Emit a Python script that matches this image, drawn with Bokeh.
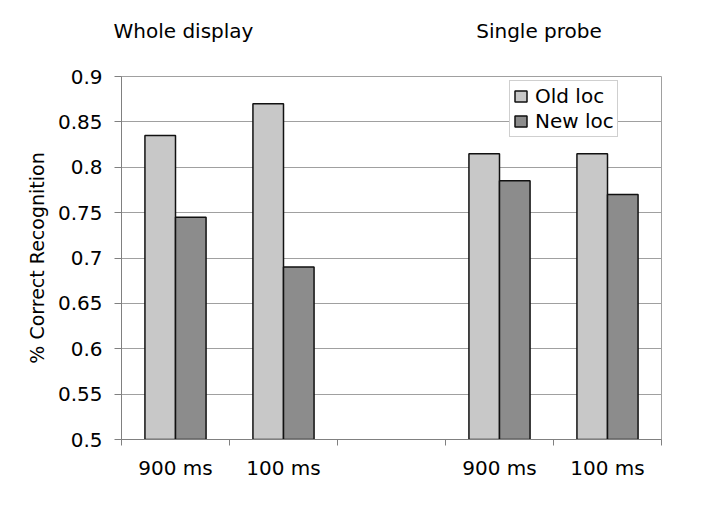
from bokeh.plotting import figure
from bokeh.models import FixedTicker, Legend, LegendItem, Range1d, LinearAxis
from bokeh.embed import file_html
from bokeh.resources import INLINE

# data
groups = ["Whole display", "Single probe"]
conditions = ["900 ms", "100 ms", "", "900 ms", "100 ms"]
old_loc = [0.835, 0.87, None, 0.815, 0.815]
new_loc = [0.745, 0.69, None, 0.785, 0.77]
y_ticks = [0.5, 0.55, 0.6, 0.65, 0.7, 0.75, 0.8, 0.85, 0.9]
group_title_pos = [0.574, 3.866]

FONT = "DejaVu Sans"
n = len(conditions)
slots = [i + 0.5 for i in range(n)]
bw = 0.283
ymin, ymax = y_ticks[0], y_ticks[-1]

old_x = [s - bw / 2 for s, v in zip(slots, old_loc) if v is not None]
old_top = [v for v in old_loc if v is not None]
new_x = [s + bw / 2 for s, v in zip(slots, new_loc) if v is not None]
new_top = [v for v in new_loc if v is not None]

p = figure(width=690, height=500, output_backend="svg", toolbar_location=None,
           x_range=Range1d(0, n), y_range=Range1d(ymin, ymax),
           min_border_left=121, min_border_right=29, min_border_top=76, min_border_bottom=61)

r_old = p.vbar(x=old_x, top=old_top, bottom=ymin, width=bw, fill_color="#c8c8c8",
               line_color="#111111", line_width=1.5)
r_new = p.vbar(x=new_x, top=new_top, bottom=ymin, width=bw, fill_color="#8c8c8c",
               line_color="#111111", line_width=1.5)

# bottom axis
bx = p.below[0]
bx.ticker = FixedTicker(ticks=[s for s, c in zip(slots, conditions) if c],
                        minor_ticks=list(range(n + 1)))
bx.major_label_overrides = {s: c for s, c in zip(slots, conditions) if c}
bx.major_tick_line_color = None
bx.major_tick_out = 6
bx.minor_tick_line_color = "#808080"
bx.minor_tick_out = 6
bx.minor_tick_in = 0
bx.axis_line_color = "#808080"
bx.major_label_text_font = FONT
bx.major_label_text_font_size = "20px"
bx.major_label_text_color = "#000000"
bx.major_label_standoff = 10

# group titles as an invisible axis above the frame
top_axis = LinearAxis(ticker=FixedTicker(ticks=group_title_pos, minor_ticks=[]),
                      major_label_overrides={t: g for t, g in zip(group_title_pos, groups)})
top_axis.axis_line_color = None
top_axis.major_tick_line_color = None
top_axis.minor_tick_line_color = None
top_axis.major_tick_out = 0
top_axis.major_tick_in = 0
top_axis.major_label_standoff = 34
top_axis.major_label_text_font = FONT
top_axis.major_label_text_font_size = "20px"
top_axis.major_label_text_color = "#000000"
p.add_layout(top_axis, "above")

ly = p.left[0]
ly.ticker = FixedTicker(ticks=y_ticks)
ly.major_label_overrides = {t: f"{t:g}" for t in y_ticks}
ly.minor_tick_line_color = None
ly.major_tick_out = 7
ly.major_tick_in = 0
ly.major_tick_line_color = "#808080"
ly.axis_line_color = "#808080"
ly.major_label_text_font = FONT
ly.major_label_text_font_size = "20px"
ly.major_label_text_color = "#000000"
ly.major_label_standoff = 12
ly.axis_label = "% Correct Recognition"
ly.axis_label_text_font = FONT
ly.axis_label_text_font_size = "19px"
ly.axis_label_text_font_style = "normal"
ly.axis_label_text_color = "#000000"
ly.axis_label_standoff = 7

p.xgrid.grid_line_color = None
p.ygrid.ticker = FixedTicker(ticks=y_ticks)
p.ygrid.grid_line_color = "#a0a0a0"
p.ygrid.grid_line_width = 1
p.outline_line_color = "#a0a0a0"
p.outline_line_width = 1

legend = Legend(items=[LegendItem(label="Old loc", renderers=[r_old]),
                       LegendItem(label="New loc", renderers=[r_new])],
                location=(388, 302))
legend.label_text_font = FONT
legend.label_text_font_size = "20px"
legend.label_text_color = "#000000"
legend.border_line_color = "#a0a0a0"
legend.border_line_width = 1
legend.glyph_width = 15
legend.glyph_height = 14
legend.label_standoff = 7
legend.label_height = 20
legend.padding = 3
legend.spacing = 1
legend.margin = 0
legend.background_fill_color = "white"
legend.background_fill_alpha = 1
p.add_layout(legend)

open("out.html", "w").write(file_html(p, INLINE))
